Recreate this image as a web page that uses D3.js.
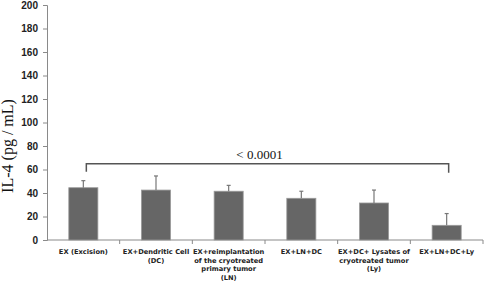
<!DOCTYPE html>
<html>
<head>
<meta charset="utf-8">
<script src="https://cdn.jsdelivr.net/npm/d3@7"></script>
<style>
  body { margin: 0; background: #fff; }
</style>
</head>
<body>
<div id="chart"></div>
<script>
// data
const categories = ["EX", "DC", "LN", "LNDC", "Ly", "LNDCLy"];
const labelLines = [
    ["EX (Excision)"],
    ["EX+Dendritic Cell", "(DC)"],
    ["EX+reimplantation", "of the cryotreated", "primary tumor", "(LN)"],
    ["EX+LN+DC"],
    ["EX+DC+ Lysates of", "cryotreated tumor", "(Ly)"],
    ["EX+LN+DC+Ly"]
];
const means = [44.5, 42.5, 41.5, 35.5, 31.5, 12.5];
const errors = [6, 12, 5, 6, 11, 10];
const yTicks = [0, 20, 40, 60, 80, 100, 120, 140, 160, 180, 200];
const bracket = { from: "EX", to: "LNDCLy", level: 65, text: "< 0.0001" };

const W = 484, H = 292;
const margin = { top: 5, right: 1, bottom: 52, left: 47 };
const width = W - margin.left - margin.right;
const height = H - margin.top - margin.bottom;

const svg = d3.select("#chart").append("svg")
    .attr("width", W).attr("height", H);
const g = svg.append("g")
    .attr("transform", "translate(" + margin.left + "," + margin.top + ")");

const x = d3.scaleBand().domain(categories).range([0, width]).paddingInner(0.6).paddingOuter(0.3);
const xEdge = d3.scaleBand().domain(categories).range([0, width]);
const y = d3.scaleLinear().domain([0, 200]).range([height, 0]);

const axisColor = "#8a8a8a";

// y axis
const yAxis = g.append("g")
    .call(d3.axisLeft(y).tickValues(yTicks).tickSize(4).tickPadding(5));
yAxis.selectAll("path, line").attr("stroke", axisColor);
yAxis.selectAll("text")
    .style("font-family", "'Liberation Sans', Arial, sans-serif")
    .style("font-weight", "bold")
    .style("font-size", "10px")
    .attr("fill", "#222");

// x axis baseline + ticks at band edges
g.append("line")
    .attr("x1", 0).attr("x2", width)
    .attr("y1", height).attr("y2", height)
    .attr("stroke", axisColor);
g.selectAll(".xtick")
    .data(categories)
    .join("line")
    .attr("x1", d => xEdge(d) + xEdge.bandwidth())
    .attr("x2", d => xEdge(d) + xEdge.bandwidth())
    .attr("y1", height).attr("y2", height + 4)
    .attr("stroke", axisColor);

// bars
g.selectAll(".bar")
    .data(categories)
    .join("rect")
    .attr("x", d => x(d))
    .attr("width", x.bandwidth())
    .attr("y", (d, i) => y(means[i]))
    .attr("height", (d, i) => height - y(means[i]))
    .attr("fill", "#666666")
    .attr("stroke", "#9a9a9a")
    .attr("stroke-width", 0.8);

// error bars (upper only)
const cx = d => x(d) + x.bandwidth() / 2;
g.selectAll(".err")
    .data(categories)
    .join("line")
    .attr("x1", cx).attr("x2", cx)
    .attr("y1", (d, i) => y(means[i]))
    .attr("y2", (d, i) => y(means[i] + errors[i]))
    .attr("stroke", "#777")
    .attr("stroke-width", 1.2);
g.selectAll(".cap")
    .data(categories)
    .join("line")
    .attr("x1", d => cx(d) - 2).attr("x2", d => cx(d) + 2)
    .attr("y1", (d, i) => y(means[i] + errors[i]))
    .attr("y2", (d, i) => y(means[i] + errors[i]))
    .attr("stroke", "#777")
    .attr("stroke-width", 1.2);

// significance bracket
const bx1 = cx(bracket.from) + 3, bx2 = cx(bracket.to) + 2;
const by = y(bracket.level);
g.append("path")
    .attr("d", `M${bx1},${by + 8}V${by}H${bx2}V${by + 9}`)
    .attr("fill", "none")
    .attr("stroke", "#555")
    .attr("stroke-width", 1.5);
g.append("text")
    .attr("x", (bx1 + bx2) / 2 - 8)
    .attr("y", by - 5)
    .attr("text-anchor", "middle")
    .style("font-family", "'Liberation Serif', 'Times New Roman', serif")
    .style("font-size", "13px")
    .attr("fill", "#111")
    .text(bracket.text);

// category labels
const labels = g.selectAll(".xlab")
    .data(categories)
    .join("text")
    .attr("text-anchor", "middle")
    .attr("transform", d => `translate(${xEdge(d) + xEdge.bandwidth() / 2},${height + 14})`)
    .style("font-family", "'DejaVu Sans', sans-serif")
    .style("font-weight", "bold")
    .style("font-size", "6.7px")
    .attr("fill", "#222");
labels.selectAll("tspan")
    .data((d, i) => labelLines[i])
    .join("tspan")
    .attr("x", 0)
    .attr("dy", (d, i) => i === 0 ? 0 : 8.7)
    .text(d => d);

// y label
svg.append("text")
    .attr("transform", `translate(13,${margin.top + y(80)}) rotate(-90)`)
    .attr("text-anchor", "middle")
    .style("font-family", "'Liberation Serif', 'Times New Roman', serif")
    .style("font-size", "16px")
    .attr("fill", "#111")
    .text("IL-4 (pg / mL)");
</script>
</body>
</html>
